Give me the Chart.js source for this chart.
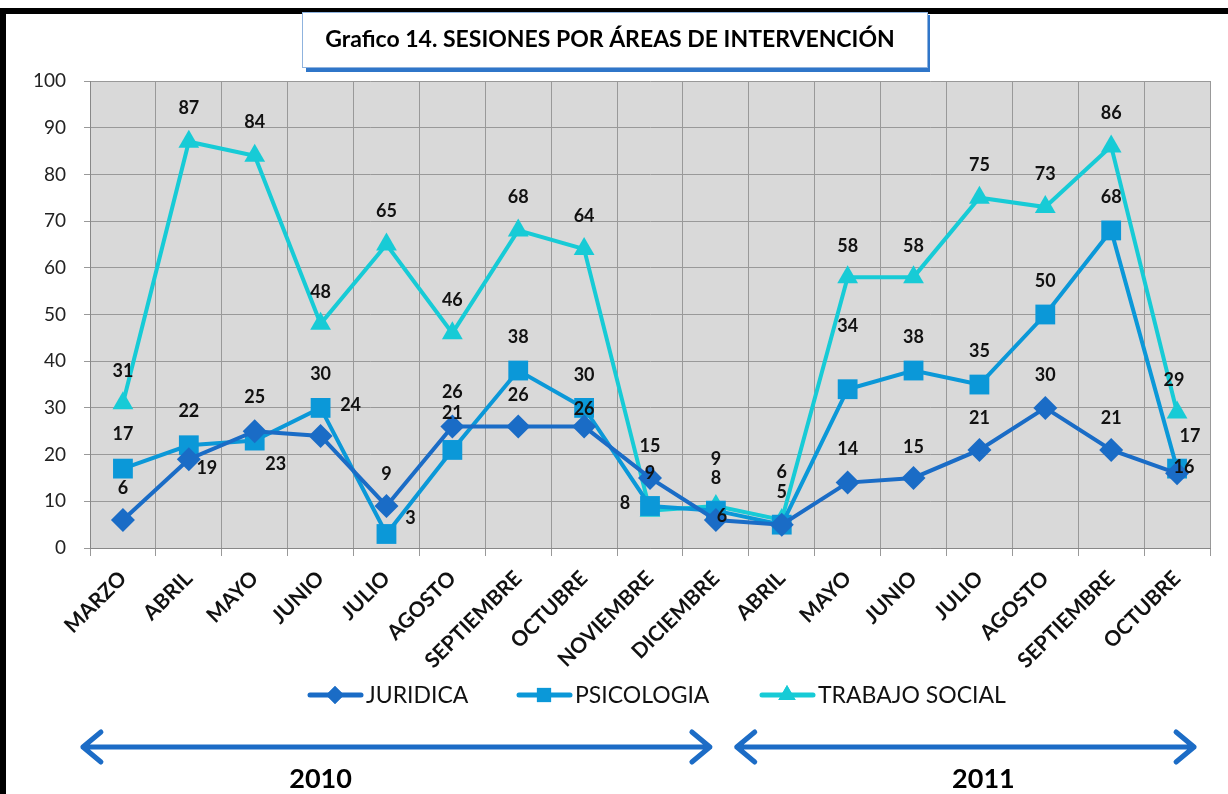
<!DOCTYPE html>
<html><head><meta charset="utf-8">
<script src="https://cdn.jsdelivr.net/npm/chart.js@4/dist/chart.umd.min.js"></script>
<style>html,body{margin:0;padding:0;background:#fff}#wrap{width:1228px;height:794px;position:relative}</style>
</head><body><div id="wrap"><canvas id="c" width="1228" height="794"></canvas></div>
<script>
// ---- data ----
const categories = ['MARZO','ABRIL','MAYO','JUNIO','JULIO','AGOSTO','SEPTIEMBRE','OCTUBRE','NOVIEMBRE','DICIEMBRE','ABRIL','MAYO','JUNIO','JULIO','AGOSTO','SEPTIEMBRE','OCTUBRE'];
const juridica      = [6,19,25,24,9,26,26,26,15,6,5,14,15,21,30,21,16];
const psicologia    = [17,22,23,30,3,21,38,30,9,8,5,34,38,35,50,68,17];
const trabajoSocial = [31,87,84,48,65,46,68,64,8,9,6,58,58,75,73,86,29];
const seriesNames = ['JURIDICA','PSICOLOGIA','TRABAJO SOCIAL'];
const yTicks = [0,10,20,30,40,50,60,70,80,90,100];
const years = ['2010','2011'];
const titleText = 'Grafico 14. SESIONES POR ÁREAS DE INTERVENCIÓN';

// ---- label placement (dx, dy from point), null = hidden ----
const labelPosJ = [[0,-32],[18,9],[0,-34],[30,-31],[0,-32],[0,-34],[0,-31],[0,-17],[0,-32],[6,-4],null,[0,-33],[0,-31],[0,-32],[0,-33],[0,-32],[7,-6]];
const labelPosP = [[0,-34],[0,-34],[21,24],[0,-34],[24,-16],[0,-37],[0,-33],[0,-33],[0,-33],[0,-32],[0,-32],[0,-63],[0,-33],[0,-33],[0,-33],[0,-33],[13,-32]];
const labelPosT = [[0,-32],[0,-34],[0,-34],[0,-32],[0,-33],[0,-33],[0,-33],[0,-33],[-25,-7],[0,-47],[0,-48],[0,-31],[0,-31],[0,-33],[0,-33],[0,-33],[-3,-32]];

const colJ = '#1a6cc6', colP = '#0b98d8', colT = '#17cbd6';
const FONT = 'Lato, "Open Sans", sans-serif';

const decor = {
  id: 'decor',
  beforeDraw(chart) {
    const {ctx, chartArea: a} = chart;
    ctx.save();
    ctx.fillStyle = '#fff';
    ctx.fillRect(0, 0, chart.width, chart.height);
    ctx.fillStyle = '#d9d9d9';
    ctx.fillRect(a.left, a.top, a.right - a.left, a.bottom - a.top);
    ctx.restore();
  },
  afterDatasetsDraw(chart) {
    const ctx = chart.ctx;
    const pos = [labelPosJ, labelPosP, labelPosT];
    ctx.save();
    ctx.font = 'bold 18px ' + FONT;
    ctx.fillStyle = '#111';
    ctx.textAlign = 'center';
    ctx.textBaseline = 'middle';
    chart.data.datasets.forEach((ds, di) => {
      const meta = chart.getDatasetMeta(di);
      meta.data.forEach((pt, i) => {
        const p = pos[di][i];
        if (!p) return;
        ctx.fillText(String(ds.data[i]), pt.x + p[0], pt.y + p[1]);
      });
    });
    ctx.restore();
  },
  afterDraw(chart) {
    const ctx = chart.ctx;
    const xs = chart.scales.x;
    ctx.save();
    // black frame
    ctx.fillStyle = '#000';
    ctx.fillRect(0, 8, chart.width, 6);
    ctx.fillRect(0, 8, 6, chart.height - 8);
    // title box
    ctx.fillStyle = '#2f76c9';
    ctx.fillRect(306, 15, 624, 57);
    ctx.fillStyle = '#fff';
    ctx.fillRect(302, 12, 626, 56);
    ctx.strokeStyle = '#8fb3de';
    ctx.lineWidth = 1;
    ctx.strokeRect(302.5, 12.5, 625, 55);
    ctx.fillStyle = '#000';
    ctx.font = 'bold 23px ' + FONT;
    ctx.textAlign = 'center';
    ctx.textBaseline = 'middle';
    ctx.fillText(titleText, 610, 40);
    // legend
    const cols = [colJ, colP, colT];
    const styles = ['rectRot', 'rect', 'triangle'];
    const radii = [9, 10, 10];
    const lx = [308, 517, 760];
    const ly = 695;
    ctx.font = '23px ' + FONT;
    ctx.textAlign = 'left';
    for (let i = 0; i < 3; i++) {
      ctx.strokeStyle = cols[i];
      ctx.lineWidth = 5;
      ctx.lineCap = 'round';
      ctx.beginPath();
      ctx.moveTo(lx[i] + 2, ly); ctx.lineTo(lx[i] + 53, ly); ctx.stroke();
      ctx.fillStyle = cols[i];
      Chart.helpers.drawPoint(ctx, {pointStyle: styles[i], radius: radii[i], rotation: 0, borderWidth: 0}, lx[i] + 27, ly);
      ctx.fill();
      ctx.fillStyle = '#111';
      ctx.fillText(seriesNames[i], lx[i] + 58, ly + 1);
    }
    // year arrows
    const arrows = [
      [xs.getPixelForValue(0) - 40, xs.getPixelForValue(9) - 6, xs.getPixelForValue(3)],
      [xs.getPixelForValue(10) - 45, xs.getPixelForValue(16) + 17, xs.getPixelForValue(13) + 4]
    ];
    const ay = 747;
    ctx.strokeStyle = '#1c6cc6';
    ctx.lineWidth = 5;
    ctx.lineCap = 'round';
    ctx.lineJoin = 'round';
    arrows.forEach((ar, k) => {
      ctx.beginPath();
      ctx.moveTo(ar[0], ay); ctx.lineTo(ar[1], ay);
      ctx.moveTo(ar[0] + 18, ay - 15); ctx.lineTo(ar[0], ay); ctx.lineTo(ar[0] + 18, ay + 15);
      ctx.moveTo(ar[1] - 18, ay - 15); ctx.lineTo(ar[1], ay); ctx.lineTo(ar[1] - 18, ay + 15);
      ctx.stroke();
      ctx.fillStyle = '#000';
      ctx.font = 'bold 27px ' + FONT;
      ctx.textAlign = 'center';
      ctx.textBaseline = 'middle';
      ctx.fillText(years[k], ar[2], 779);
    });
    ctx.restore();
  }
};

const mk = (label, data, color, style, radius) => ({
  label, data,
  borderColor: color, backgroundColor: color,
  pointBackgroundColor: color, pointBorderColor: color,
  borderWidth: 4, pointStyle: style, pointRadius: radius, pointBorderWidth: 0,
  tension: 0, fill: false
});

new Chart(document.getElementById('c'), {
  type: 'line',
  data: {
    labels: categories,
    datasets: [
      mk(seriesNames[0], juridica, colJ, 'rectRot', 12),
      mk(seriesNames[1], psicologia, colP, 'rect', 14),
      mk(seriesNames[2], trabajoSocial, colT, 'triangle', 12)
    ]
  },
  options: {
    responsive: false,
    animation: false,
    devicePixelRatio: 1,
    layout: {padding: {left: 10, right: 18, top: 81, bottom: 96}},
    plugins: {legend: {display: false}, title: {display: false}, tooltip: {enabled: false}},
    scales: {
      x: {
        offset: true,
        grid: {offset: true, color: '#999', lineWidth: 1, tickLength: 8, drawTicks: true},
        border: {color: '#888', width: 1},
        ticks: {maxRotation: 45, minRotation: 45, autoSkip: false, padding: 10, color: '#111', font: {family: FONT, size: 21, weight: 'bold'}},
        afterFit(s) { s.height = 150; }
      },
      y: {
        min: 0, max: 100,
        afterBuildTicks(s) { s.ticks = yTicks.map(v => ({value: v})); },
        grid: {color: '#999', lineWidth: 1, tickLength: 6},
        border: {color: '#888', width: 1},
        ticks: {padding: 18, color: '#222', font: {family: FONT, size: 19}},
        afterFit(s) { s.width = 80; }
      }
    }
  },
  plugins: [decor]
});
</script>
</body></html>
